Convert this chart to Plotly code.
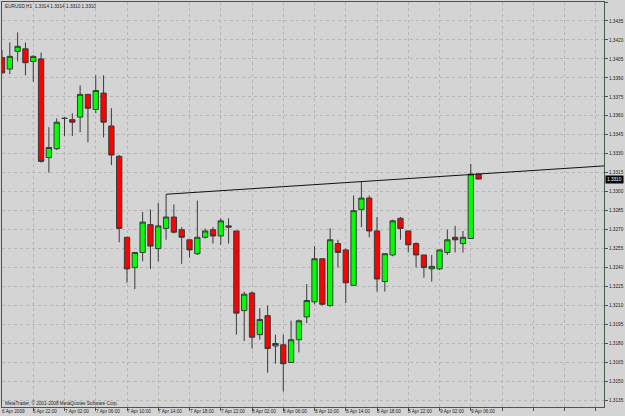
import plotly.graph_objects as go

# ---- data (EURUSD H1, first bar = 6 Apr 2009 18:00) ----
bar_index = list(range(62))
opens = [1.3406, 1.3397, 1.3411, 1.3413, 1.3403, 1.3405, 1.3327, 1.3334, 1.3358, 1.3357,
         1.3359, 1.3377, 1.3365, 1.3378, 1.3352, 1.3328, 1.3264, 1.3240, 1.3252, 1.3274,
         1.3255, 1.3271, 1.3280, 1.3270, 1.3262, 1.3251, 1.3264, 1.3270, 1.3265, 1.3273,
         1.3269, 1.3206, 1.3220, 1.3187, 1.3202, 1.3178, 1.3179, 1.3165, 1.3183, 1.3201,
         1.3213, 1.3247, 1.3210, 1.3259, 1.3254, 1.3226, 1.3286, 1.3295, 1.3269, 1.3229,
         1.3250, 1.3279, 1.3269, 1.3259, 1.3250, 1.3239, 1.3239, 1.3252, 1.3264, 1.3259,
         1.3263, 1.3314]
highs = [1.3412, 1.3418, 1.3426, 1.3418, 1.3408, 1.3410, 1.3351, 1.3358, 1.3359, 1.3362,
         1.3384, 1.3377, 1.3392, 1.3392, 1.3366, 1.3329, 1.3264, 1.3252, 1.3284, 1.3286,
         1.3291, 1.3298, 1.3290, 1.3272, 1.3262, 1.3293, 1.3271, 1.3272, 1.3279, 1.3279,
         1.3269, 1.3221, 1.3221, 1.3208, 1.3210, 1.3187, 1.3187, 1.3198, 1.3199, 1.3227,
         1.3257, 1.3247, 1.3271, 1.3262, 1.3255, 1.3297, 1.3308, 1.3297, 1.3280, 1.3251,
         1.3278, 1.3280, 1.3269, 1.3260, 1.3250, 1.3250, 1.3254, 1.3270, 1.3273, 1.3269,
         1.3322, 1.3314]
lows = [1.3393, 1.3393, 1.3403, 1.3392, 1.3387, 1.3323, 1.3315, 1.3333, 1.3344, 1.3344,
        1.3347, 1.3339, 1.3362, 1.3343, 1.3321, 1.3260, 1.3228, 1.3223, 1.3245, 1.3239,
        1.3245, 1.3262, 1.3267, 1.3243, 1.3248, 1.3250, 1.3263, 1.3259, 1.3258, 1.3259,
        1.3187, 1.3182, 1.3176, 1.3183, 1.3157, 1.3164, 1.3142, 1.3165, 1.3173, 1.3196,
        1.3211, 1.3210, 1.3209, 1.3240, 1.3212, 1.3226, 1.3272, 1.3264, 1.3221, 1.3221,
        1.3249, 1.3262, 1.3252, 1.3240, 1.3232, 1.3229, 1.3238, 1.3250, 1.3252, 1.3252,
        1.3263, 1.3310]
closes = [1.3394, 1.3407, 1.3415, 1.3402, 1.3407, 1.3324, 1.3335, 1.3355, 1.3358, 1.3355,
          1.3377, 1.3366, 1.3380, 1.3355, 1.3329, 1.3271, 1.3239, 1.3252, 1.3276, 1.3257,
          1.3273, 1.3280, 1.3268, 1.3264, 1.3254, 1.3264, 1.3269, 1.3265, 1.3277, 1.3272,
          1.3204, 1.3219, 1.3185, 1.3199, 1.3176, 1.3180, 1.3164, 1.3183, 1.3198, 1.3214,
          1.3247, 1.3211, 1.3262, 1.3252, 1.3228, 1.3285, 1.3295, 1.3269, 1.3231, 1.3251,
          1.3277, 1.3271, 1.3258, 1.3250, 1.3240, 1.3241, 1.3254, 1.3262, 1.3262, 1.3264,
          1.3314, 1.3310]

# trendline anchors (bar index, price) - drawn as a ray to the right edge
trend_bars = [21, 46]
trend_prices = [1.3298, 1.3308]

price_ticks = [1.3135, 1.3150, 1.3165, 1.3180, 1.3195, 1.3210, 1.3225, 1.3240, 1.3255,
               1.3270, 1.3285, 1.3300, 1.3315, 1.3330, 1.3345, 1.3360, 1.3375, 1.3390,
               1.3405, 1.3420, 1.3435, 1.3450]
time_label_bars = [0, 4, 8, 12, 16, 20, 24, 28, 32, 36, 40, 44, 48, 52, 56, 60]
time_labels = ["6 Apr 2009", "6 Apr 22:00", "7 Apr 02:00", "7 Apr 06:00", "7 Apr 10:00",
               "7 Apr 14:00", "7 Apr 18:00", "7 Apr 22:00", "8 Apr 02:00", "8 Apr 06:00",
               "8 Apr 10:00", "8 Apr 14:00", "8 Apr 18:00", "8 Apr 22:00", "9 Apr 02:00",
               "9 Apr 06:00"]
grid_bars = [4, 8, 12, 16, 20, 24, 28, 32, 36, 40, 44, 48, 52, 56, 60, 64, 68, 72, 76]

title_text = "EURUSD,H1  1.3314 1.3314 1.3310 1.3310"
copyright_text = "MetaTrader, \u00a9 2001-2008 MetaQuotes Software Corp."
last_price = closes[-1]

# ---- layout constants ----
X_MIN, X_MAX = 0.0, 77.05
Y_MIN, Y_MAX = 1.31298, 1.3450
BG = "#d4d4d4"
FG = "#4a584a"
GRID = "#b6b6b6"
TXT = "#1e1e1e"
FONT = "Liberation Sans"
FS = 4.7

fig = go.Figure()

fig.add_trace(go.Candlestick(
    x=bar_index, open=opens, high=highs, low=lows, close=closes,
    increasing=dict(line=dict(color="#3a3a3a", width=1), fillcolor="#00ff00"),
    decreasing=dict(line=dict(color="#3a3a3a", width=1), fillcolor="#ff0000"),
    whiskerwidth=0, hoverinfo="skip", showlegend=False,
))

slope = (trend_prices[1] - trend_prices[0]) / (trend_bars[1] - trend_bars[0])
ray_x = [trend_bars[0], X_MAX]
ray_y = [trend_prices[0], trend_prices[0] + slope * (X_MAX - trend_bars[0])]
fig.add_trace(go.Scatter(x=ray_x, y=ray_y, mode="lines",
                         line=dict(color="#111111", width=1),
                         hoverinfo="skip", showlegend=False))

annotations = []
for b, t in zip(time_label_bars, time_labels):
    annotations.append(dict(x=b, y=0, xref="x", yref="paper", text=t, showarrow=False,
                            xanchor="left", yanchor="top", xshift=-1, yshift=-1,
                            borderpad=0, font=dict(family=FONT, size=FS, color=TXT)))
annotations.append(dict(x=0, y=1, xref="paper", yref="paper", text=title_text,
                        showarrow=False, xanchor="left", yanchor="top", xshift=2,
                        yshift=-1, borderpad=0,
                        font=dict(family=FONT, size=FS, color=TXT)))
annotations.append(dict(x=0, y=0, xref="paper", yref="paper", text=copyright_text,
                        showarrow=False, xanchor="left", yanchor="bottom", xshift=2,
                        yshift=0, borderpad=0,
                        font=dict(family=FONT, size=FS, color=TXT)))
annotations.append(dict(x=1, y=last_price, xref="paper", yref="y",
                        text=f"{last_price:.4f}", showarrow=False, xanchor="left",
                        yanchor="middle", xshift=1, bgcolor="#000000", borderpad=1,
                        font=dict(family=FONT, size=FS, color="#ffffff")))

fig.update_layout(
    width=625, height=416,
    margin=dict(l=2, r=19, t=1, b=9, pad=0),
    paper_bgcolor=BG, plot_bgcolor=BG,
    boxgap=0.32, boxgroupgap=0,
    showlegend=False,
    annotations=annotations,
    xaxis=dict(range=[X_MIN, X_MAX], tickmode="array", tickvals=grid_bars,
               showticklabels=False, ticks="outside", ticklen=3, tickcolor=FG,
               showgrid=True, gridcolor=GRID, griddash="dot", gridwidth=1,
               zeroline=False, showline=True, linecolor=FG, linewidth=1, mirror=True,
               rangeslider=dict(visible=False), fixedrange=True),
    yaxis=dict(range=[Y_MIN, Y_MAX], side="right", tickmode="array",
               tickvals=price_ticks, ticktext=[f"{p:.4f}" for p in price_ticks],
               ticks="outside", ticklen=3, tickcolor=FG,
               tickfont=dict(family=FONT, size=FS, color=TXT),
               showgrid=True, gridcolor=GRID, griddash="dot", gridwidth=1,
               zeroline=False, showline=True, linecolor=FG, linewidth=1, mirror=True,
               fixedrange=True),
)

fig.write_html("out.html")
